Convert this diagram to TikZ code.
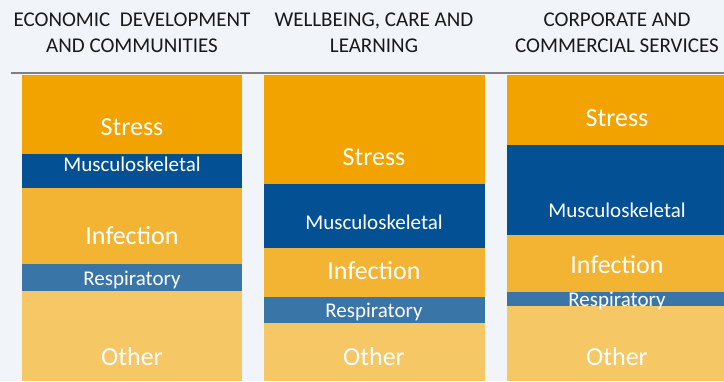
\documentclass[tikz,border=0pt]{standalone}
\usepackage{fontspec}
\setmainfont{Carlito}
\definecolor{bg}{HTML}{F1F4F8}
\definecolor{cstress}{HTML}{F2A300}
\definecolor{cmusc}{HTML}{045094}
\definecolor{cinf}{HTML}{F4B433}
\definecolor{cresp}{HTML}{3A75A8}
\definecolor{cother}{HTML}{F6C765}
\definecolor{rule}{HTML}{808080}
\begin{document}
\begin{tikzpicture}[x=1pt,y=-1pt,
  hdr/.style={anchor=base,inner sep=0pt,font=\fontsize{21}{27}\selectfont,text=black!90},
  big/.style={anchor=base,inner sep=0pt,font=\fontsize{26}{30}\selectfont,text=white},
  small/.style={anchor=base,inner sep=0pt,font=\fontsize{21}{25}\selectfont,text=white}]
\useasboundingbox (0,0) rectangle (724,381);
\fill[bg] (0,0) rectangle (724,381);
% headers
\node[hdr] (h1a) at (132,26.7) {ECONOMIC~ DEVELOPMENT};
\node[hdr] (h1b) at (132,52.7) {AND COMMUNITIES};
\node[hdr] (h2a) at (374,26.7) {WELLBEING, CARE AND};
\node[hdr] (h2b) at (374,52.7) {LEARNING};
\node[hdr] (h3a) at (617,26.7) {CORPORATE AND};
\node[hdr] (h3b) at (617,52.7) {COMMERCIAL SERVICES};
\draw[rule,line width=2pt] (11,73) -- (724,73);
% column 1
\fill[cstress] (22,75) rectangle (242,153.5);
\fill[cmusc] (22,153.5) rectangle (242,188);
\fill[cinf] (22,188) rectangle (242,264);
\fill[cresp] (22,264) rectangle (242,290.5);
\fill[cother] (22,290.5) rectangle (242,381);
\node[big] (s1) at (132,135) {Stress};
\node[small] (m1) at (132,171) {Musculoskeletal};
\node[big] (i1) at (132,244.5) {Infection};
\node[small] (r1) at (132,285.3) {Respiratory};
\node[big] (o1) at (132,365.7) {Other};
% column 2
\fill[cstress] (264,75) rectangle (484.5,184);
\fill[cmusc] (264,184) rectangle (484.5,248);
\fill[cinf] (264,248) rectangle (484.5,297);
\fill[cresp] (264,297) rectangle (484.5,323);
\fill[cother] (264,323) rectangle (484.5,381);
\node[big] (s2) at (374,165.7) {Stress};
\node[small] (m2) at (374,229.3) {Musculoskeletal};
\node[big] (i2) at (374,279) {Infection};
\node[small] (r2) at (374,317.3) {Respiratory};
\node[big] (o2) at (374,365.7) {Other};
% column 3
\fill[cstress] (507,75) rectangle (727,145);
\fill[cmusc] (507,145) rectangle (727,235);
\fill[cinf] (507,235) rectangle (727,292);
\fill[cresp] (507,292) rectangle (727,306);
\fill[cother] (507,306) rectangle (727,381);
\node[big] (s3) at (617,126) {Stress};
\node[small] (m3) at (617,217.3) {Musculoskeletal};
\node[big] (i3) at (617,273.3) {Infection};
\node[small] (r3) at (617,306.7) {Respiratory};
\node[big] (o3) at (617,365.7) {Other};
\end{tikzpicture}
\end{document}
